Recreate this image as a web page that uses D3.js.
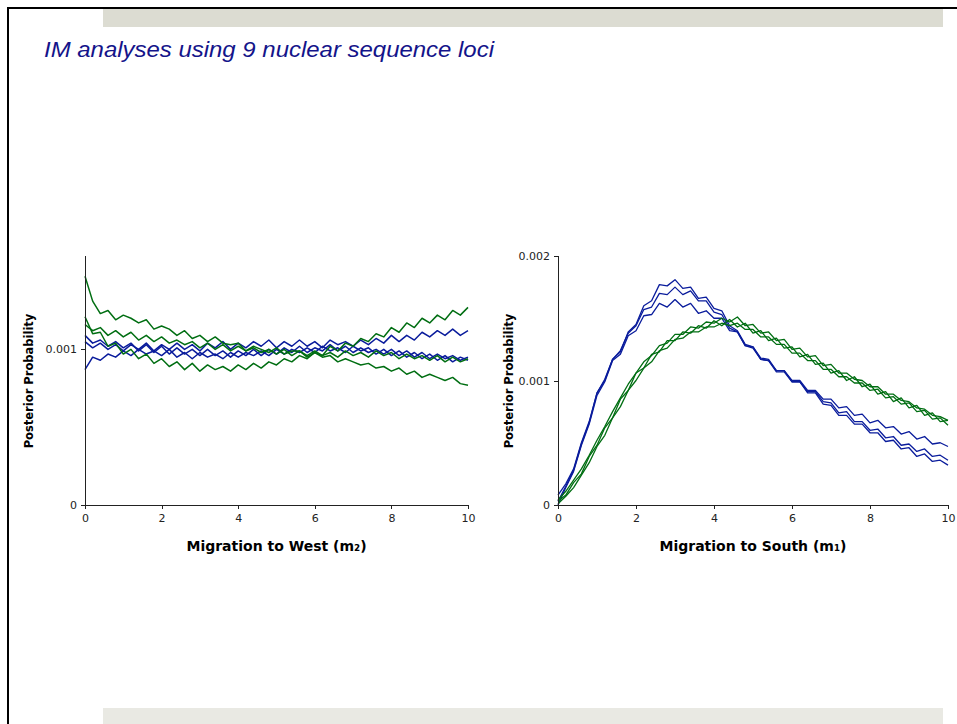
<!DOCTYPE html>
<html>
<head>
<meta charset="utf-8">
<script src="https://cdn.jsdelivr.net/npm/d3@7"></script>
<style>
  body { margin: 0; background: #fff; }
  .tick text { font-family: Verdana, "DejaVu Sans", sans-serif; font-size: 11px; fill: #222; }
  .axis path, .axis line { stroke: #222; shape-rendering: crispEdges; }
  .xtitle { font-family: Verdana, "DejaVu Sans", sans-serif; font-size: 14px; font-weight: bold; }
  .ytitle { font-family: Verdana, "DejaVu Sans", sans-serif; font-size: 11.5px; font-weight: bold; }
</style>
</head>
<body>
<div id="svg1"></div>
<script>
// x grid of the runs (m values), values below are in units of 1e-4
var mGrid = [0,0.2,0.4,0.6,0.8,1,1.2,1.4,1.6,1.8,2,2.2,2.4,2.6,2.8,3,3.2,3.4,3.6,3.8,4,4.2,4.4,4.6,4.8,5,
  5.2,5.4,5.6,5.8,6,6.2,6.4,6.6,6.8,7,7.2,7.4,7.6,7.8,8,8.2,8.4,8.6,8.8,9,9.2,9.4,9.6,9.8,10];

// left panel: migration to west (m2)
var westBlue1 = [10.5,10.1,10.4,10.0,10.3,9.9,10.3,10.0,10.4,9.9,10.3,10.0,10.4,10.0,10.3,9.9,10.4,10.1,10.5,10.0,
  10.4,10.1,10.5,10.2,10.6,10.1,10.5,10.2,10.6,10.2,10.5,10.1,10.6,10.3,10.5,10.2,10.6,10.3,10.7,10.4,
  10.9,10.5,10.9,10.6,11.1,10.8,11.2,10.9,11.3,10.9,11.2];
var westBlue2 = [8.7,9.5,9.3,9.7,9.5,9.9,9.6,10.0,9.7,9.9,9.6,10.0,9.5,9.8,9.4,9.8,9.5,9.7,9.4,9.8,
  9.5,9.8,9.6,9.9,9.6,10.0,9.7,10.0,9.8,10.1,9.8,10.2,9.9,10.1,9.8,10.2,9.9,10.1,9.7,10.0,
  9.6,9.9,9.5,9.8,9.4,9.7,9.3,9.6,9.2,9.5,9.3];
var westBlue3 = [10.9,10.4,10.6,10.2,10.5,10.1,10.4,9.9,10.3,9.8,10.2,9.7,10.1,9.7,10.0,9.6,10.0,9.6,9.9,9.5,
  9.9,9.6,10.0,9.6,10.0,9.7,10.1,9.8,10.2,9.8,10.1,9.9,10.3,9.9,10.2,9.8,10.1,9.8,10.0,9.7,
  10.0,9.6,9.9,9.5,9.8,9.4,9.7,9.4,9.6,9.3,9.5];
var westGreen1 = [14.7,13.1,12.3,12.5,11.9,12.2,12.0,11.7,11.9,11.3,11.5,11.3,10.9,11.2,10.7,10.9,10.5,10.8,10.4,10.3,
  10.4,9.9,10.2,10.0,9.8,10.1,9.7,9.9,9.9,9.5,9.8,9.5,9.6,9.2,9.4,9.2,9.0,9.1,8.8,8.9,
  8.6,8.8,8.4,8.6,8.2,8.4,8.2,8.0,8.2,7.8,7.7];
var westGreen2 = [12.1,11.0,11.1,10.2,10.4,9.7,10.0,9.4,9.7,9.1,9.4,8.9,9.2,8.7,9.1,8.6,9.0,8.7,8.9,8.6,
  9.0,8.7,9.1,8.8,9.2,9.0,9.4,9.2,9.6,9.4,9.8,9.6,10.2,9.9,10.4,10.2,10.7,10.5,11.0,10.8,
  11.4,11.1,11.7,11.4,12.0,11.7,12.2,11.9,12.5,12.2,12.7];
var westGreen3 = [11.6,11.2,11.4,10.9,11.2,10.8,11.1,10.6,10.9,10.5,10.8,10.4,10.6,10.3,10.5,10.1,10.4,10.0,10.3,9.9,
  10.2,9.9,10.1,9.8,10.0,9.7,10.0,9.6,9.9,9.6,9.9,9.6,9.8,9.5,9.9,9.6,9.8,9.5,9.9,9.6,
  9.8,9.4,9.7,9.4,9.6,9.3,9.6,9.2,9.5,9.2,9.4];

// right panel: migration to south (m1)
var southBlue1 = [0.3,1.5,2.8,4.9,6.6,9.0,10.0,11.7,12.3,13.9,14.5,16.0,16.4,17.7,17.6,18.1,17.4,17.5,16.6,16.7,
  15.8,15.6,14.4,14.0,12.9,12.7,11.8,11.7,10.8,10.8,9.9,9.9,9.0,9.0,8.1,8.0,7.2,7.2,6.5,6.5,
  5.8,5.8,5.1,5.2,4.5,4.6,3.9,4.1,3.5,3.6,3.2];
var southBlue2 = [0.8,1.7,2.9,5.0,6.7,9.0,10.1,11.7,12.4,13.8,14.4,15.7,15.9,17.0,16.9,17.5,16.9,17.2,16.4,16.4,
  15.5,15.3,14.2,13.9,12.8,12.6,11.7,11.6,10.7,10.7,9.9,9.9,9.1,9.1,8.3,8.2,7.4,7.5,6.7,6.7,
  6.0,6.1,5.4,5.5,4.8,4.9,4.3,4.5,3.9,4.0,3.6];
var southBlue3 = [0.0,1.4,2.7,4.8,6.5,8.8,9.9,11.6,12.1,13.6,14.0,15.2,15.3,16.2,15.9,16.5,15.9,16.2,15.4,15.6,
  15.0,15.0,14.0,13.9,12.8,12.7,11.7,11.6,10.8,10.8,10.0,10.0,9.2,9.2,8.5,8.5,7.8,7.9,7.2,7.3,
  6.6,6.8,6.2,6.3,5.7,5.9,5.3,5.5,4.9,5.0,4.7];
var southGreen1 = [0.3,0.8,1.8,2.5,3.9,4.8,6.2,7.0,8.5,9.2,10.6,11.0,12.1,12.3,13.2,13.2,13.9,13.8,14.4,14.2,
  14.8,14.4,14.9,14.3,14.6,13.8,14.0,13.2,13.4,12.6,12.7,11.9,12.1,11.3,11.4,10.6,10.8,10.0,10.3,9.5,
  9.7,8.9,9.1,8.3,8.6,7.8,8.0,7.2,7.4,6.7,6.8];
var southGreen2 = [0.1,0.7,1.4,2.4,3.4,4.7,5.6,7.0,7.9,9.2,10.0,11.0,11.5,12.4,12.6,13.3,13.4,13.9,13.9,14.3,
  14.3,14.6,14.4,14.6,14.1,14.1,13.5,13.5,12.9,12.9,12.2,12.2,11.6,11.6,10.9,10.9,10.3,10.3,9.8,9.8,
  9.2,9.3,8.6,8.7,8.1,8.2,7.5,7.6,6.9,7.0,6.4];
var southGreen3 = [0.4,1.1,2.0,2.9,4.0,5.2,6.3,7.5,8.6,9.7,10.6,11.5,12.0,12.8,13.0,13.7,13.7,14.3,14.2,14.7,
  14.6,15.0,14.7,15.1,14.4,14.5,13.8,13.9,13.2,13.3,12.5,12.6,11.9,12.0,11.2,11.3,10.6,10.6,10.1,10.0,
  9.5,9.5,8.9,8.9,8.4,8.3,7.8,7.7,7.2,7.1,6.8];

var xTicks = [0, 2, 4, 6, 8, 10];
var westYTicks = [0, 0.001];
var southYTicks = [0, 0.001, 0.002];

var blue = "#0a1c9c", green = "#006e12";

var svg = d3.select("#svg1")
  .append("svg")
    .attr("width", 957)
    .attr("height", 724);

// slide frame and grey bands
svg.append("rect").attr("x", 103).attr("y", 9).attr("width", 840).attr("height", 18).attr("fill", "#dcdcd2");
svg.append("rect").attr("x", 103).attr("y", 708).attr("width", 840).attr("height", 16).attr("fill", "#e9e9e3");
svg.append("line").attr("x1", 7).attr("x2", 957).attr("y1", 8).attr("y2", 8).attr("stroke", "#000").attr("stroke-width", 2);
svg.append("line").attr("x1", 8).attr("x2", 8).attr("y1", 7).attr("y2", 724).attr("stroke", "#000").attr("stroke-width", 2);

svg.append("text")
  .attr("x", 44)
  .attr("y", 57)
  .attr("textLength", 450)
  .attr("lengthAdjust", "spacingAndGlyphs")
  .style("font-family", "Arial, 'Liberation Sans', sans-serif")
  .style("font-style", "italic")
  .style("font-size", "22px")
  .attr("fill", "#14148a")
  .text("IM analyses using 9 nuclear sequence loci");

function panel(left, right, yMax, yTicks, xTitle, yTitleX, lineW, blues, greens) {
  var top = 256, bottom = 505;
  var g = svg.append("g");

  var x = d3.scaleLinear().domain([0, 10]).range([left, right]);
  var y = d3.scaleLinear().domain([0, yMax]).range([bottom, top]);

  var line = d3.line()
    .x(function(d, i) { return x(mGrid[i]); })
    .y(function(d) { return y(d * 1e-4); });

  blues.forEach(function(s) {
    g.append("path").datum(s)
      .attr("d", line).attr("fill", "none")
      .attr("stroke", blue).attr("stroke-width", lineW).attr("stroke-linejoin", "round");
  });
  greens.forEach(function(s) {
    g.append("path").datum(s)
      .attr("d", line).attr("fill", "none")
      .attr("stroke", green).attr("stroke-width", lineW).attr("stroke-linejoin", "round");
  });

  var xAxis = g.append("g")
    .attr("class", "axis")
    .attr("transform", "translate(0," + bottom + ")")
    .call(d3.axisBottom(x).tickValues(xTicks).tickSize(4).tickSizeOuter(0).tickPadding(5));
  xAxis.select("path").attr("d", "M" + left + ",0H" + right);

  var yAxis = g.append("g")
    .attr("class", "axis")
    .attr("transform", "translate(" + left + ",0)")
    .call(d3.axisLeft(y).tickValues(yTicks).tickFormat(d3.format("")).tickSize(4).tickSizeOuter(0).tickPadding(4));
  yAxis.select("path").attr("d", "M0," + top + "V" + bottom);

  g.append("text")
    .attr("class", "xtitle")
    .attr("x", (left + right) / 2)
    .attr("y", 551)
    .attr("text-anchor", "middle")
    .text(xTitle);

  g.append("text")
    .attr("class", "ytitle")
    .attr("transform", "translate(" + yTitleX + "," + 381 + ")rotate(-90)")
    .attr("text-anchor", "middle")
    .text("Posterior Probability");
}

panel(85, 468, 0.0016, westYTicks, "Migration to West (m\u2082)", 33, 1.5,
  [westBlue1, westBlue2, westBlue3], [westGreen1, westGreen2, westGreen3]);
panel(558, 948, 0.002, southYTicks, "Migration to South (m\u2081)", 513, 1.3,
  [southBlue1, southBlue2, southBlue3], [southGreen1, southGreen2, southGreen3]);
</script>
</body>
</html>
